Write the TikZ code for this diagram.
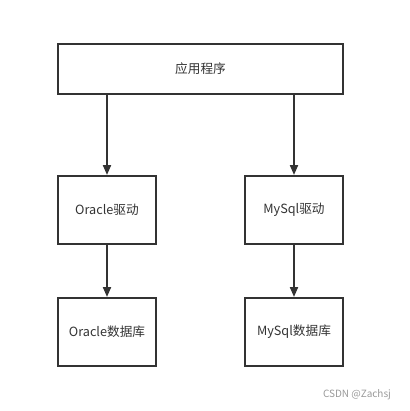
\documentclass[tikz,border=0pt]{standalone}
\usepackage{fontspec}
\setmainfont{Noto Sans CJK SC}
\usepackage{xcolor}
\usepackage{tikz}
\usetikzlibrary{arrows.meta}
\definecolor{linegray}{HTML}{333333}
\definecolor{markgray}{HTML}{999999}

\begin{document}
\begin{tikzpicture}[x=0.75pt,y=-0.75pt,
  box/.style={draw=linegray,line width=1.5pt,minimum height=52.5pt-1.5pt,inner sep=0pt,font=\fontsize{9.5pt}{11pt}\selectfont,text=linegray},
  smallbox/.style={box,minimum width=75pt-1.5pt,minimum height=52.5pt-1.5pt},
  link/.style={draw=linegray,line width=1.5pt,-{Triangle[length=7.5pt,width=6pt]}}]
\useasboundingbox (0,0) rectangle (410,411);
\node [box,minimum width=215.25pt-1.5pt,minimum height=39pt-1.5pt] (app) at (200.5,69) {应用程序};

\node [smallbox] (odrv) at (107,210) {Oracle驱动};
\node [smallbox] (mdrv) at (294,210) {MySql驱动};

\node [smallbox] (odb) at (107,332) {Oracle数据库};
\node [smallbox] (mdb) at (294,332) {MySql数据库};

\draw [link] (app.south -| odrv) -- (odrv.north);
\draw [link] (app.south -| mdrv) -- (mdrv.north);
\draw [link] (odrv) -- (odb);
\draw [link] (mdrv) -- (mdb);

\node [text=markgray,font=\fontsize{7.5pt}{9pt}\selectfont] (mark) at (357,395) {CSDN @Zachsj};
\end{tikzpicture}
\end{document}
